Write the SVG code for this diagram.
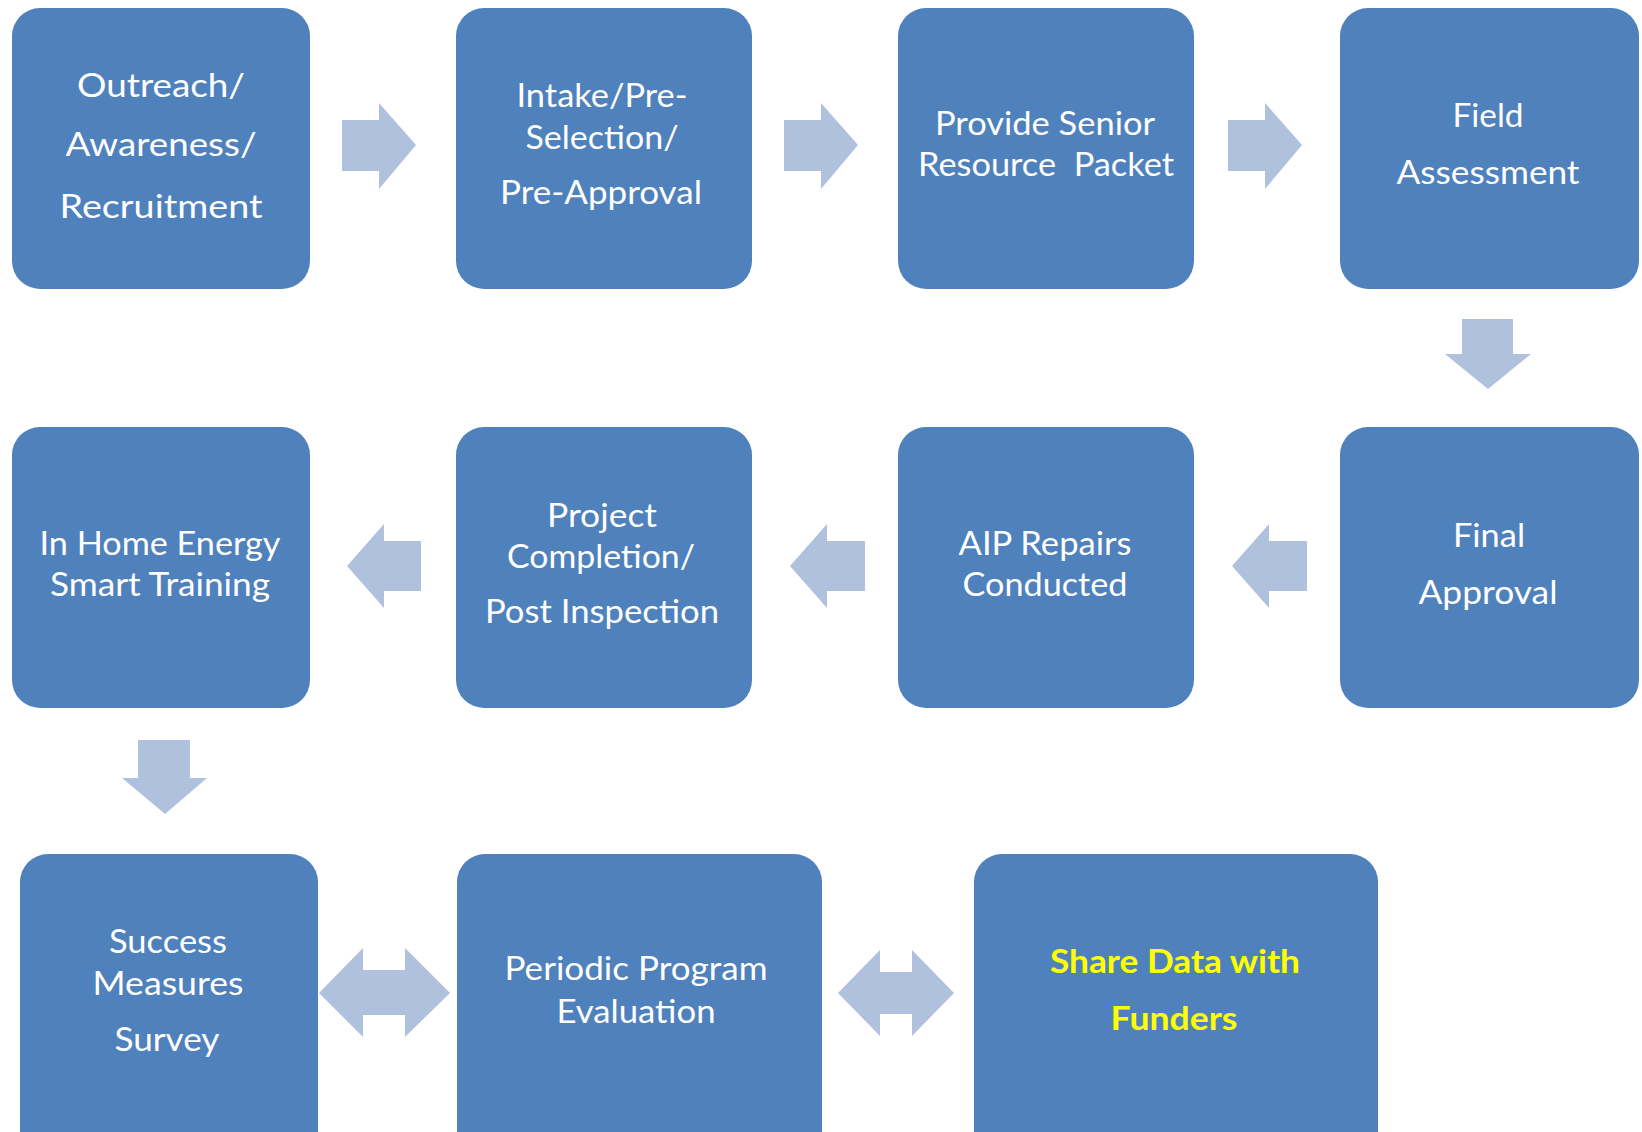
<svg xmlns="http://www.w3.org/2000/svg" width="1642" height="1132" viewBox="0 0 1642 1132">
<style>
.box{fill:#4F81BD;}
.arr{fill:#B0C1DD;}
.t{font-family:Lato,"Open Sans","Liberation Sans",sans-serif;font-size:32px;fill:#FFFFFF;text-anchor:middle;}
.y{font-family:Lato,"Open Sans","Liberation Sans",sans-serif;font-size:32px;font-weight:bold;fill:#FFFF00;text-anchor:middle;}
</style>
<rect width="1642" height="1132" fill="#FFFFFF"/>
<g id="connectors">
<polygon class="arr" points="342,120 379,120 379,103 416,145 379,189 379,171 342,171"/>
<polygon class="arr" points="784,120 821,120 821,103 858,145 821,189 821,171 784,171"/>
<polygon class="arr" points="1228,120 1265,120 1265,103 1302,145 1265,189 1265,171 1228,171"/>
<polygon class="arr" points="1462,319 1513,319 1513,354 1531,354 1488,389 1445,354 1462,354"/>
<polygon class="arr" points="1307,541 1269,541 1269,524 1232,566 1269,608 1269,591 1307,591"/>
<polygon class="arr" points="865,541 827,541 827,524 790,566 827,608 827,591 865,591"/>
<polygon class="arr" points="421,541 384,541 384,524 347,566 384,608 384,591 421,591"/>
<polygon class="arr" points="138,740 190,740 190,778 207,778 165,814 122,778 138,778"/>
<polygon class="arr" points="319,993 363,948 363,970 405,970 405,948 450,993 405,1037 405,1015 363,1015 363,1037"/>
<polygon class="arr" points="838,993 880,950 880,972 912,972 912,950 954,993 912,1036 912,1014 880,1014 880,1036"/>
</g>
<g id="n1"><rect class="box" x="12" y="8" width="298" height="281" rx="28"/>
<text class="t" x="161" y="97" textLength="168" lengthAdjust="spacingAndGlyphs">Outreach/</text>
<text class="t" x="161" y="156" textLength="191" lengthAdjust="spacingAndGlyphs">Awareness/</text>
<text class="t" x="161" y="218" textLength="203" lengthAdjust="spacingAndGlyphs">Recruitment</text></g>
<g id="n2"><rect class="box" x="456" y="8" width="296" height="281" rx="28"/>
<text class="t" x="602" y="107" textLength="171" lengthAdjust="spacingAndGlyphs">Intake/Pre-</text>
<text class="t" x="602" y="149" textLength="153" lengthAdjust="spacingAndGlyphs">Selection/</text>
<text class="t" x="601" y="204" textLength="202" lengthAdjust="spacingAndGlyphs">Pre-Approval</text></g>
<g id="n3"><rect class="box" x="898" y="8" width="296" height="281" rx="28"/>
<text class="t" x="1045" y="135" textLength="220" lengthAdjust="spacingAndGlyphs">Provide Senior</text>
<text class="t" x="1046" y="176" textLength="256" lengthAdjust="spacingAndGlyphs" xml:space="preserve">Resource  Packet</text></g>
<g id="n4"><rect class="box" x="1340" y="8" width="299" height="281" rx="28"/>
<text class="t" x="1488" y="127" textLength="71" lengthAdjust="spacingAndGlyphs">Field</text>
<text class="t" x="1488" y="184" textLength="183" lengthAdjust="spacingAndGlyphs">Assessment</text></g>
<g id="n5"><rect class="box" x="1340" y="427" width="299" height="281" rx="28"/>
<text class="t" x="1489" y="547" textLength="72" lengthAdjust="spacingAndGlyphs">Final</text>
<text class="t" x="1488" y="604" textLength="139" lengthAdjust="spacingAndGlyphs">Approval</text></g>
<g id="n6"><rect class="box" x="898" y="427" width="296" height="281" rx="28"/>
<text class="t" x="1045" y="555" textLength="173" lengthAdjust="spacingAndGlyphs">AIP Repairs</text>
<text class="t" x="1045" y="596" textLength="165" lengthAdjust="spacingAndGlyphs">Conducted</text></g>
<g id="n7"><rect class="box" x="456" y="427" width="296" height="281" rx="28"/>
<text class="t" x="602" y="527" textLength="110" lengthAdjust="spacingAndGlyphs">Project</text>
<text class="t" x="601" y="568" textLength="188" lengthAdjust="spacingAndGlyphs">Completion/</text>
<text class="t" x="602" y="623" textLength="234" lengthAdjust="spacingAndGlyphs">Post Inspection</text></g>
<g id="n8"><rect class="box" x="12" y="427" width="298" height="281" rx="28"/>
<text class="t" x="160" y="555" textLength="241" lengthAdjust="spacingAndGlyphs">In Home Energy</text>
<text class="t" x="160" y="596" textLength="220" lengthAdjust="spacingAndGlyphs">Smart Training</text></g>
<g id="n9"><rect class="box" x="20" y="854" width="298" height="320" rx="28"/>
<text class="t" x="168" y="953" textLength="118" lengthAdjust="spacingAndGlyphs">Success</text>
<text class="t" x="168" y="995" textLength="151" lengthAdjust="spacingAndGlyphs">Measures</text>
<text class="t" x="167" y="1051" textLength="105" lengthAdjust="spacingAndGlyphs">Survey</text></g>
<g id="n10"><rect class="box" x="457" y="854" width="365" height="320" rx="28"/>
<text class="t" x="636" y="980" textLength="263" lengthAdjust="spacingAndGlyphs">Periodic Program</text>
<text class="t" x="636" y="1023" textLength="159" lengthAdjust="spacingAndGlyphs">Evaluation</text></g>
<g id="n11"><rect class="box" x="974" y="854" width="404" height="320" rx="28"/>
<text class="y" x="1175" y="973" textLength="250" lengthAdjust="spacingAndGlyphs">Share Data with</text>
<text class="y" x="1174" y="1030" textLength="127" lengthAdjust="spacingAndGlyphs">Funders</text></g>
</svg>
